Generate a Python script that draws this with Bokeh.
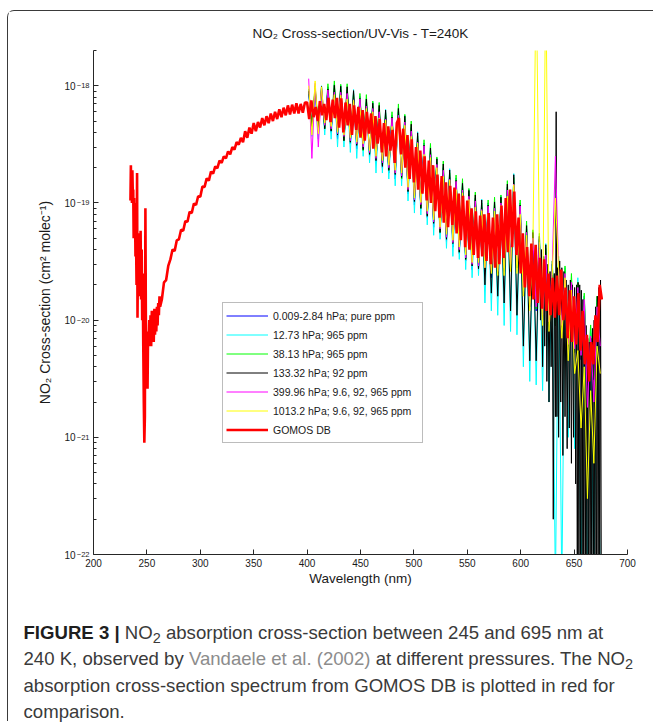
from bokeh.plotting import figure
from bokeh.models import FixedTicker, CustomJSTickFormatter, Legend, LegendItem, Div, LogAxis
from bokeh.layouts import column
from bokeh.embed import file_html
from bokeh.resources import INLINE

FONT = "Liberation Sans"

# ---------------- data ----------------
# GOMOS DB (red), UV part
gomos_wl_uv = [234.6, 235.0, 235.3, 235.7, 236.0, 236.4, 236.8, 237.2, 237.6, 238.0,
               238.4, 238.8, 239.3, 239.8, 240.3, 240.8, 241.2, 241.6, 242.1, 242.6,
               243.1, 243.6, 244.1, 244.6, 245.1, 245.6, 246.1, 246.6, 247.1, 247.6,
               248.1, 248.6, 249.1, 249.6, 250.1, 250.6, 251.1, 251.6, 252.2, 252.8,
               253.4, 254.0, 254.6, 255.2, 255.8, 256.4, 257.0, 257.6, 258.2, 258.8,
               259.4, 260.0, 260.6, 261.2, 261.8, 262.4]
gomos_xs_uv = [1.05e-19, 2.1e-19, 1.1e-19, 1.8e-19, 1.0e-19, 1.9e-19, 1.2e-19, 1.3e-19, 5.0e-20, 1.1e-19,
               6.0e-20, 1.0e-19, 3.5e-20, 5.5e-20, 2.0e-20, 1.8e-19, 1.05e-20, 3.0e-20, 5.5e-20, 1.6e-20,
               5.2e-20, 2.0e-20, 5.8e-20, 1.5e-20, 4.0e-20, 1.0e-20, 2.5e-20, 6.0e-21, 2.0e-21, 9.0e-22,
               1.5e-21, 9.0e-20, 7.0e-21, 5.0e-21, 8.0e-21, 2.6e-21, 8.0e-21, 6.0e-21, 1.0e-20, 6.5e-21,
               1.1e-20, 6.0e-21, 1.2e-20, 7.0e-21, 1.15e-20, 6.5e-21, 1.25e-20, 7.5e-21, 1.2e-20, 8.0e-21,
               1.3e-20, 9.0e-21, 1.4e-20, 1.1e-20, 1.6e-20, 1.3e-20]

# GOMOS DB (red), near-UV rise
gomos_wl_rise = [264, 266, 268, 270, 272, 274, 276, 278, 280, 282,
                 284, 286, 288, 290, 292, 294, 296, 298, 300, 302,
                 304, 306, 308, 310, 312, 314, 316, 318, 320, 322,
                 324, 326, 328, 330, 332, 334, 336, 338, 340, 342,
                 344, 346, 348, 350, 352, 354, 356, 358, 360, 362,
                 364, 366, 368, 370, 372, 374, 376, 378, 380, 382,
                 384, 386, 388, 390, 392, 394, 396, 398]
gomos_xs_rise = [1.5e-20, 2.1e-20, 2.2e-20, 2.9e-20, 3.3e-20, 4.0e-20, 3.9e-20, 4.8e-20, 4.9e-20, 5.9e-20,
                 5.8e-20, 7.0e-20, 6.9e-20, 8.4e-20, 8.2e-20, 9.9e-20, 9.6e-20, 1.14e-19, 1.13e-19, 1.38e-19,
                 1.37e-19, 1.62e-19, 1.55e-19, 1.85e-19, 1.78e-19, 2.05e-19, 1.98e-19, 2.3e-19, 2.2e-19, 2.5e-19,
                 2.4e-19, 2.75e-19, 2.6e-19, 3.0e-19, 2.85e-19, 3.3e-19, 3.15e-19, 3.6e-19, 3.3e-19, 4.1e-19,
                 3.6e-19, 4.4e-19, 3.9e-19, 4.8e-19, 4.1e-19, 4.9e-19, 4.4e-19, 5.3e-19, 4.6e-19, 5.5e-19,
                 4.8e-19, 5.8e-19, 5.0e-19, 6.0e-19, 5.2e-19, 6.3e-19, 5.4e-19, 6.5e-19, 5.6e-19, 6.8e-19,
                 5.7e-19, 6.9e-19, 5.8e-19, 7.1e-19, 5.8e-19, 7.0e-19, 5.9e-19, 7.2e-19]

# GOMOS DB (red), visible band
gomos_wl_vis = [400, 402, 404, 406, 408, 410, 412, 414, 416, 418,
                420, 422, 424, 426, 428, 430, 432, 434, 436, 438,
                440, 442, 444, 446, 448, 450, 452, 454, 456, 458,
                460, 462, 464, 466, 468, 470, 472, 474, 476, 478,
                480, 482, 484, 486, 488, 490, 492, 494, 496, 498,
                500, 502, 504, 506, 508, 510, 512, 514, 516, 518,
                520, 522, 524, 526, 528, 530, 532, 534, 536, 538,
                540, 542, 544, 546, 548, 550, 552, 554, 556, 558,
                560, 562, 564, 566, 568, 570, 572, 574, 576, 578,
                580, 582, 584, 586, 588, 590, 592, 594, 596, 598,
                600, 602, 604, 606, 608, 610, 612, 614, 616, 618,
                620, 622, 624, 626, 628, 630, 632, 634, 636, 638,
                640, 642, 644, 646, 648, 650, 652, 654, 656, 658,
                660, 662, 664, 666, 668, 670, 672, 674, 676]
gomos_xs_vis = [7.2e-19, 5.2e-19, 7.5e-19, 5.4e-19, 6.6e-19, 5.0e-19, 7.4e-19, 5.6e-19, 7.0e-19, 5.1e-19,
                7.9e-19, 4.9e-19, 7.6e-19, 5.3e-19, 7.9e-19, 4.4e-19, 7.8e-19, 4.0e-19, 7.2e-19, 4.6e-19,
                7.0e-19, 3.8e-19, 6.8e-19, 4.2e-19, 6.6e-19, 3.6e-19, 6.2e-19, 3.4e-19, 6.0e-19, 3.9e-19,
                5.8e-19, 2.9e-19, 5.5e-19, 3.2e-19, 5.2e-19, 2.7e-19, 4.8e-19, 2.5e-19, 4.5e-19, 2.8e-19,
                4.2e-19, 2.2e-19, 4.8e-19, 5.3e-19, 2.6e-19, 4.3e-19, 2.0e-19, 3.8e-19, 1.6e-19, 3.5e-19,
                1.5e-19, 3.0e-19, 1.3e-19, 2.8e-19, 1.2e-19, 2.5e-19, 1.05e-19, 2.3e-19, 1.0e-19, 2.1e-19,
                8.5e-20, 1.75e-19, 7.5e-20, 1.7e-19, 6.8e-20, 1.5e-19, 6.2e-20, 1.4e-19, 6.5e-20, 1.35e-19,
                5.5e-20, 1.2e-19, 4.8e-20, 1.15e-19, 4.2e-20, 1.05e-19, 4.0e-20, 9.0e-20, 3.6e-20, 8.5e-20,
                3.4e-20, 7.8e-20, 3.5e-20, 8.0e-20, 3.2e-20, 8.2e-20, 3.0e-20, 7.5e-20, 2.8e-20, 8.0e-20,
                3.0e-20, 9.5e-20, 3.4e-20, 1.1e-19, 3.8e-20, 1.3e-19, 4.2e-20, 1.25e-19, 3.6e-20, 7.5e-20,
                2.5e-20, 5.5e-20, 1.9e-20, 4.2e-20, 1.6e-20, 4.5e-20, 1.5e-20, 4.4e-20, 1.4e-20, 3.4e-20,
                1.25e-20, 3.3e-20, 1.2e-20, 2.5e-20, 1.1e-20, 2.3e-20, 1.05e-20, 2.4e-20, 1.1e-20, 2.7e-20,
                1.0e-20, 1.9e-20, 7.0e-21, 1.8e-20, 6.5e-21, 1.6e-20, 6.2e-21, 1.7e-20, 5.5e-21, 1.2e-20,
                4.2e-21, 7.5e-21, 3.0e-21, 6.5e-21, 4.2e-21, 1.1e-20, 6.5e-21, 2.0e-20, 1.5e-20]

# Vandaele et al. (2002) wavelength grid
vandaele_wl = [401.5, 404.5, 407.5, 410.5, 413.5, 416.5, 419.5, 422.5, 425.5, 428.5,
               431.5, 434.5, 437.5, 440.5, 443.5, 446.5, 449.5, 452.5, 455.5, 458.5,
               461.5, 464.5, 467.5, 470.5, 473.5, 476.5, 479.5, 482.5, 485.5, 488.5,
               491.5, 494.5, 497.5, 500.5, 503.5, 506.5, 509.5, 512.5, 515.5, 518.5,
               521.5, 524.5, 527.5, 530.5, 533.5, 536.5, 539.5, 542.5, 545.5, 548.5,
               551.5, 554.5, 557.5, 560.5, 563.5, 566.5, 569.5, 572.5, 575.5, 578.5,
               581.5, 584.5, 587.5, 590.5, 593.5, 596.5, 599.5, 602.5, 605.5, 608.5,
               611.5, 614.5, 617.5, 620.5, 623.5, 626.5, 629.5, 632.5, 635.5, 638.5,
               641.5, 644.5, 647.5, 650.5, 653.5, 656.5, 659.5, 662.5, 665.5, 668.5,
               671.5, 674.5]

xs_0009hpa = [8.5e-19, 4.3e-19, 8.9e-19, 4.1e-19, 8.6e-19, 4.3e-19, 9.8e-19, 4.0e-19, 9.5e-19, 3.5e-19,
              9.3e-19, 3.4e-19, 9.2e-19, 3.2e-19, 7.9e-19, 2.9e-19, 8.1e-19, 2.8e-19, 7.2e-19, 2.5e-19,
              6.7e-19, 2.2e-19, 6.3e-19, 2.0e-19, 5.4e-19, 1.8e-19, 5.6e-19, 1.6e-19, 6.0e-19, 1.6e-19,
              5.2e-19, 1.2e-19, 4.4e-19, 9.6e-20, 3.45e-19, 8.9e-20, 3.25e-19, 7.5e-20, 2.76e-19, 6.2e-20,
              2.24e-19, 5.5e-20, 2.0e-19, 4.7e-20, 1.67e-19, 4.2e-20, 1.63e-19, 3.7e-20, 1.38e-19, 3.2e-20,
              1.2e-19, 2.7e-20, 1.1e-19, 2.7e-20, 9.2e-20, 2.6e-20, 1.0e-19, 2.3e-20, 9.6e-20, 2.4e-20,
              1.06e-19, 2.6e-20, 1.37e-19, 2.7e-20, 1.52e-19, 2.8e-20, 1.0e-19, 1.7e-20, 6.0e-20, 1.3e-20,
              5.3e-20, 1.2e-20, 4.9e-20, 1.0e-20, 3.8e-20, 8.8e-21, 3.0e-20, 9.0e-21, 3.0e-20, 8.3e-21,
              2.6e-20, 5.6e-21, 2.2e-20, 5.3e-21, 2.0e-20, 4.6e-21, 1.6e-20, 2.9e-21, 7.8e-21, 3.1e-21,
              1.4e-20, 5.6e-21]

xs_1273hpa = [9.2e-19, 3.7e-19, 8.8e-19, 3.5e-19, 1.0e-18, 3.8e-19, 9.5e-19, 3.5e-19, 1.03e-18, 3.0e-19,
              1.01e-18, 3.0e-19, 9.0e-19, 2.7e-19, 9.3e-19, 2.4e-19, 7.9e-19, 2.5e-19, 7.8e-19, 2.2e-19,
              7.3e-19, 1.8e-19, 6.2e-19, 1.8e-19, 6.3e-19, 1.6e-19, 5.5e-19, 1.4e-19, 6.5e-19, 1.4e-19,
              5.6e-19, 1.04e-19, 4.3e-19, 8.2e-20, 4.05e-19, 7.9e-20, 3.17e-19, 6.5e-20, 2.99e-19, 5.3e-20,
              2.43e-19, 4.9e-20, 1.98e-19, 4.1e-20, 1.96e-19, 3.5e-20, 1.59e-19, 3.3e-20, 1.5e-19, 2.7e-20,
              1.31e-19, 2.3e-20, 1.08e-19, 2.4e-20, 1.08e-19, 1.4e-20, 9.8e-20, 1.2e-20, 1.04e-19, 1.1e-20,
              1.15e-19, 9.0e-21, 1.34e-19, 8.0e-21, 1.78e-19, 7.5e-21, 9.8e-20, 4.0e-21, 6.5e-20, 3.0e-21,
              5.8e-20, 2.8e-21, 4.8e-20, 2.5e-21, 4.5e-20, 2.0e-21, 2.9e-20, 5.0e-23, 3.3e-20, 5.0e-23,
              2.8e-20, 1.0e-21, 2.2e-20, 8.0e-22, 2.3e-20, 5.0e-23, 1.6e-20, 5.0e-23, 8.5e-21, 5.0e-23,
              1.5e-20, 5.0e-23]

xs_3813hpa = [9.4e-19, 4.6e-19, 1.0e-18, 4.6e-19, 9.4e-19, 4.3e-19, 1.04e-18, 4.2e-19, 1.1e-18, 4.0e-19,
              1.03e-18, 3.4e-19, 1.04e-18, 3.3e-19, 8.6e-19, 3.2e-19, 8.6e-19, 2.8e-19, 8.4e-19, 2.6e-19,
              7.4e-19, 2.4e-19, 7.2e-19, 2.1e-19, 5.9e-19, 1.9e-19, 6.0e-19, 1.8e-19, 7.0e-19, 1.6e-19,
              5.7e-19, 1.28e-19, 5.0e-19, 1.08e-19, 3.75e-19, 9.0e-20, 3.46e-19, 7.9e-20, 3.22e-19, 7.0e-20,
              2.47e-19, 5.6e-20, 2.28e-19, 5.0e-20, 1.81e-19, 4.7e-20, 1.73e-19, 3.8e-20, 1.61e-19, 3.3e-20,
              1.33e-19, 3.1e-20, 1.24e-19, 2.8e-20, 1.0e-19, 2.7e-20, 1.06e-19, 2.6e-20, 1.12e-19, 2.4e-20,
              1.17e-19, 2.7e-20, 1.55e-19, 3.0e-20, 1.65e-19, 2.8e-20, 1.06e-19, 1.8e-20, 7.0e-20, 1.4e-20,
              5.9e-20, 1.25e-20, 5.5e-20, 1.1e-20, 4.1e-20, 1.0e-20, 3.2e-20, 9.0e-21, 3.5e-20, 8.8e-21,
              2.9e-20, 6.3e-21, 2.5e-20, 5.3e-21, 2.1e-20, 4.9e-21, 1.7e-20, 3.2e-21, 9.1e-21, 3.2e-21,
              1.6e-20, 6.0e-21]

# 133.32 hPa (black) has its own, denser sampling at the red end
wl_13332hpa = [401.5, 404.5, 407.5, 410.5, 413.5, 416.5, 419.5, 422.5, 425.5, 428.5,
               431.5, 434.5, 437.5, 440.5, 443.5, 446.5, 449.5, 452.5, 455.5, 458.5,
               461.5, 464.5, 467.5, 470.5, 473.5, 476.5, 479.5, 482.5, 485.5, 488.5,
               491.5, 494.5, 497.5, 500.5, 503.5, 506.5, 509.5, 512.5, 515.5, 518.5,
               521.5, 524.5, 527.5, 530.5, 533.5, 536.5, 539.5, 542.5, 545.5, 548.5,
               551.5, 554.5, 557.5, 560.5, 563.5, 566.5, 569.5, 572.5, 575.5, 578.5,
               581.5, 584.5, 587.5, 590.5, 593.5, 596.5, 599.5, 602.5, 605.5, 608.5,
               611.5, 614.5, 617.5, 618.5, 619.5, 620.5, 621.5, 622.5, 623.5, 624.5,
               625.5, 626.5, 627.5, 628.5, 629.5, 630.5, 631.5, 632.5, 633.2, 633.9,
               634.5, 635.5, 636.5, 637.5, 638.5, 639.5, 640.5, 641.5, 642.5, 643.5,
               644.5, 645.5, 646.5, 647.5, 648.5, 649.5, 650.5, 651.5, 652.25, 653.0,
               653.75, 654.5, 655.25, 656.0, 656.75, 657.5, 658.25, 659.0, 659.75, 660.5,
               661.25, 662.0, 662.75, 663.5, 664.25, 665.0, 665.75, 666.5, 667.25, 668.0,
               668.75, 669.5, 670.25, 671.0, 671.75, 672.5, 673.25, 674.0, 674.75, 675.5]
xs_13332hpa = [9.0e-19, 4.5e-19, 9.5e-19, 4.4e-19, 9.9e-19, 4.3e-19, 9.4e-19, 4.1e-19, 1.01e-18, 3.8e-19,
               9.9e-19, 3.4e-19, 9.8e-19, 3.3e-19, 9.1e-19, 3.1e-19, 7.8e-19, 2.85e-19, 7.7e-19, 2.6e-19,
               7.1e-19, 2.3e-19, 6.8e-19, 2.05e-19, 6.2e-19, 1.9e-19, 5.4e-19, 1.75e-19, 6.4e-19, 1.65e-19,
               5.5e-19, 1.25e-19, 4.7e-19, 1.03e-19, 3.96e-19, 9.0e-20, 3.12e-19, 7.7e-20, 2.94e-19, 6.7e-20,
               2.38e-19, 5.6e-20, 2.15e-19, 4.9e-20, 1.91e-19, 4.5e-20, 1.56e-19, 3.8e-20, 1.47e-19, 3.3e-20,
               1.28e-19, 2.9e-20, 1.17e-19, 2.75e-20, 1.06e-19, 2.0e-20, 9.6e-20, 1.7e-20, 1.02e-19, 1.6e-20,
               1.12e-19, 1.4e-20, 1.45e-19, 1.2e-20, 1.74e-19, 1.1e-20, 9.6e-20, 6.0e-21, 6.4e-20, 4.5e-21,
               5.6e-20, 4.5e-21, 5.2e-20, 1.0e-20, 4.0e-20, 4.0e-21, 3.5e-20, 6.0e-21, 4.4e-20, 3.0e-21,
               3.0e-20, 2.0e-21, 2.6e-20, 4.0e-21, 2.4e-20, 2.0e-22, 2.5e-20, 1.5e-21, 6.0e-19, 1.5e-21,
               2.8e-20, 1.0e-21, 3.2e-20, 2.0e-21, 2.8e-20, 7.0e-22, 2.6e-20, 1.5e-21, 2.2e-20, 8.0e-22,
               2.0e-20, 1.2e-21, 2.2e-20, 6.0e-22, 2.0e-20, 1.0e-21, 1.9e-20, 4.0e-22, 2.0e-20, 5.0e-23,
               2.1e-20, 5.0e-23, 2.0e-20, 5.0e-23, 1.8e-20, 5.0e-23, 1.5e-20, 5.0e-23, 1.2e-20, 5.0e-23,
               9.0e-21, 5.0e-23, 7.0e-21, 5.0e-23, 6.5e-21, 5.0e-23, 7.0e-21, 5.0e-23, 8.5e-21, 5.0e-23,
               1.0e-20, 5.0e-23, 1.3e-20, 5.0e-23, 1.6e-20, 5.0e-23, 1.9e-20, 5.0e-23, 2.2e-20, 5.0e-23]

xs_39996hpa = [1.15e-18, 2.4e-19, 1.05e-18, 3.0e-19, 9.5e-19, 4.6e-19, 9.2e-19, 4.3e-19, 8.8e-19, 3.9e-19,
               8.8e-19, 3.7e-19, 8.6e-19, 3.4e-19, 7.6e-19, 3.2e-19, 7.7e-19, 3.0e-19, 6.7e-19, 2.7e-19,
               6.4e-19, 2.4e-19, 6.0e-19, 2.2e-19, 5.2e-19, 2.0e-19, 5.3e-19, 1.8e-19, 5.6e-19, 1.7e-19,
               4.9e-19, 1.3e-19, 4.1e-19, 1.06e-19, 3.3e-19, 9.7e-20, 3.07e-19, 8.1e-20, 2.58e-19, 6.9e-20,
               2.13e-19, 6.0e-20, 1.9e-19, 5.1e-20, 1.6e-19, 4.6e-20, 1.53e-19, 4.0e-20, 1.29e-19, 3.4e-20,
               1.14e-19, 3.0e-20, 1.04e-19, 2.9e-20, 8.8e-20, 2.8e-20, 9.4e-20, 2.6e-20, 9.0e-20, 2.6e-20,
               1.0e-19, 2.8e-20, 1.29e-19, 3.0e-20, 1.45e-19, 3.0e-20, 9.4e-20, 1.9e-20, 5.6e-20, 1.4e-20,
               5.0e-20, 1.3e-20, 4.6e-20, 1.1e-20, 3.6e-20, 9.7e-21, 2.8e-20, 2.5e-19, 2.8e-20, 9.0e-21,
               2.5e-20, 6.2e-21, 2.1e-20, 5.7e-21, 1.9e-20, 5.0e-21, 1.5e-20, 1.8e-21, 7.3e-21, 2.0e-21,
               1.3e-20, 6.0e-21]

xs_10132hpa = [1.0e-18, 3.8e-19, 1.1e-18, 3.9e-19, 9.8e-19, 4.8e-19, 7.8e-19, 4.5e-19, 8.4e-19, 4.0e-19,
               8.3e-19, 3.8e-19, 7.7e-19, 3.6e-19, 7.5e-19, 3.3e-19, 6.5e-19, 3.2e-19, 6.4e-19, 2.8e-19,
               6.0e-19, 2.5e-19, 5.3e-19, 2.3e-19, 5.1e-19, 2.1e-19, 4.5e-19, 1.9e-19, 5.3e-19, 1.8e-19,
               4.6e-19, 1.36e-19, 3.7e-19, 1.1e-19, 3.24e-19, 1.01e-19, 2.6e-19, 8.5e-20, 2.44e-19, 7.2e-20,
               2.0e-19, 6.2e-20, 1.68e-19, 5.4e-20, 1.57e-19, 4.8e-20, 1.3e-19, 4.2e-20, 1.22e-19, 3.6e-20,
               1.07e-19, 3.1e-20, 9.2e-20, 3.1e-20, 8.6e-20, 2.8e-20, 8.0e-20, 2.5e-20, 8.5e-20, 2.4e-20,
               9.5e-20, 2.4e-20, 1.14e-19, 2.6e-20, 1.43e-19, 2.5e-20, 8.0e-20, 1.6e-20, 5.3e-20, 1.2e-20,
               4.7e-20, 1.0e-17, 4.1e-20, 9.0e-21, 1.0e-17, 8.0e-21, 2.4e-20, 1.1e-19, 2.7e-20, 7.0e-21,
               2.3e-20, 4.5e-21, 1.8e-20, 3.5e-21, 5.5e-21, 1.2e-21, 4.0e-21, 3.0e-22, 2.5e-21, 6.0e-22,
               6.0e-21, 3.5e-21]

legend_labels = ["0.009-2.84 hPa; pure ppm", "12.73 hPa; 965 ppm", "38.13 hPa; 965 ppm",
                 "133.32 hPa; 92 ppm", "399.96 hPa; 9.6, 92, 965 ppm", "1013.2 hPa; 9.6, 92, 965 ppm",
                 "GOMOS DB"]
x_ticks = [200, 250, 300, 350, 400, 450, 500, 550, 600, 650, 700]
y_ticks = [1e-22, 1e-21, 1e-20, 1e-19, 1e-18]

# ---------------- figure ----------------
p = figure(width=645, height=589, x_range=(200, 700), y_range=(1e-22, 2e-18),
           y_axis_type="log", output_backend="svg", toolbar_location=None,
           min_border_left=85, min_border_right=26, min_border_top=39, min_border_bottom=46,
           background_fill_color="white", border_fill_color="white")
p.outline_line_color = None
p.xgrid.grid_line_color = None
p.ygrid.grid_line_color = None

p.title.text = "NO\u2082 Cross-section/UV-Vis - T=240K"
p.title.align = "center"
p.title.text_font = FONT
p.title.text_font_size = "13.5px"
p.title.text_font_style = "normal"
p.title.text_color = "#1a1a1a"
p.title.standoff = 19

series = [
    (vandaele_wl, xs_0009hpa, "#0000ff", 1.0),
    (vandaele_wl, xs_1273hpa, "#00ffff", 1.0),
    (vandaele_wl, xs_3813hpa, "#00ff00", 1.0),
    (wl_13332hpa, xs_13332hpa, "#000000", 1.0),
    (vandaele_wl, xs_39996hpa, "#ff00ff", 1.0),
    (vandaele_wl, xs_10132hpa, "#ffff00", 1.0),
    (gomos_wl_uv + gomos_wl_rise + gomos_wl_vis,
     gomos_xs_uv + gomos_xs_rise + gomos_xs_vis, "#ff0000", 2.6),
]
renderers = []
for wl, xs, col, lw in series:
    renderers.append(p.line(wl, xs, line_color=col, line_width=lw))

legend = Legend(items=[LegendItem(label=lab, renderers=[r]) for lab, r in zip(legend_labels, renderers)],
                location=(129, 111), margin=0, padding=3, spacing=0,
                glyph_width=42, glyph_height=19, label_height=19, label_width=146,
                label_standoff=5, label_text_font=FONT, label_text_font_size="10.5px",
                label_text_color="#1a1a1a", border_line_color="#7a7a7a", border_line_width=1,
                background_fill_color="white", background_fill_alpha=1.0)
p.add_layout(legend)

xa = p.xaxis[0]
ya = p.yaxis[0]          # inner axis: line, ticks and the raised exponents
xa.ticker = FixedTicker(ticks=x_ticks)
ya.ticker = FixedTicker(ticks=y_ticks,
                        minor_ticks=[m * d for d in y_ticks[:-1] for m in range(2, 10)] + [2e-18])
ya.formatter = CustomJSTickFormatter(code='return "\u2212" + String(Math.round(-Math.log10(tick)));')
xa.axis_label = "Wavelength (nm)"
for ax in (xa, ya):
    ax.axis_line_color = "#262626"
    ax.axis_line_width = 1
    ax.major_tick_line_color = "#262626"
    ax.minor_tick_line_color = "#262626"
    ax.major_tick_in = 5
    ax.major_tick_out = 0
    ax.minor_tick_in = 3
    ax.minor_tick_out = 0
    ax.major_label_text_font = FONT
    ax.major_label_text_color = "#1a1a1a"
    ax.axis_label_text_font = FONT
    ax.axis_label_text_font_size = "13.5px"
    ax.axis_label_text_font_style = "normal"
    ax.axis_label_text_color = "#1a1a1a"
xa.major_label_text_font_size = "10px"
xa.minor_tick_line_color = None
xa.major_label_standoff = 4
xa.axis_label_standoff = 1
ya.major_label_text_font_size = "7.5px"
ya.major_label_text_baseline = "bottom"
ya.major_label_standoff = 4

# outer axis: the "10" of each tick label and the axis title
ya2 = LogAxis(ticker=FixedTicker(ticks=y_ticks), formatter=CustomJSTickFormatter(code='return "10";'),
              axis_line_color=None, major_tick_line_color=None, minor_tick_line_color=None,
              major_tick_in=0, major_tick_out=0, major_label_standoff=-2,
              major_label_text_font=FONT, major_label_text_font_size="10px",
              major_label_text_color="#1a1a1a",
              axis_label="NO\u2082 Cross-section (cm\u00b2 molec\u207b\u00b9)",
              axis_label_text_font=FONT, axis_label_text_font_size="14px",
              axis_label_text_font_style="normal", axis_label_text_color="#1a1a1a",
              axis_label_standoff=8)
p.add_layout(ya2, "left")

sub = '<sub style="font-size:0.78em;line-height:0;vertical-align:-0.3em">2</sub>'
line_style = 'style="height:21px;line-height:21px;margin-bottom:5.3px;"'
caption_html = (
    '<div style="font-family:\'Liberation Sans\',Arial,sans-serif;font-size:18.6px;'
    'color:#3a3a3a;white-space:nowrap;padding:22px 0 0 15.5px;">'
    f'<div {line_style}><b style="color:#1e1e1e">FIGURE 3 |</b> NO{sub} absorption cross-section between 245 and 695 nm at</div>'
    f'<div {line_style}>240 K, observed by <span style="color:#8c8c8c">Vandaele et al. (2002)</span> at different pressures. The NO{sub}</div>'
    f'<div {line_style}>absorption cross-section spectrum from GOMOS DB is plotted in red for</div>'
    f'<div {line_style}>comparison.</div>'
    '</div>'
)
div = Div(text=caption_html, width=645, height=121, margin=0)

layout = column(p, div, margin=(10, 0, 0, 7),
                styles={"border-top": "1.5px solid #3a3a3a", "border-left": "1.5px solid #3a3a3a",
                        "border-top-left-radius": "7px", "background-color": "white"})

open("out.html", "w").write(file_html(layout, INLINE))
